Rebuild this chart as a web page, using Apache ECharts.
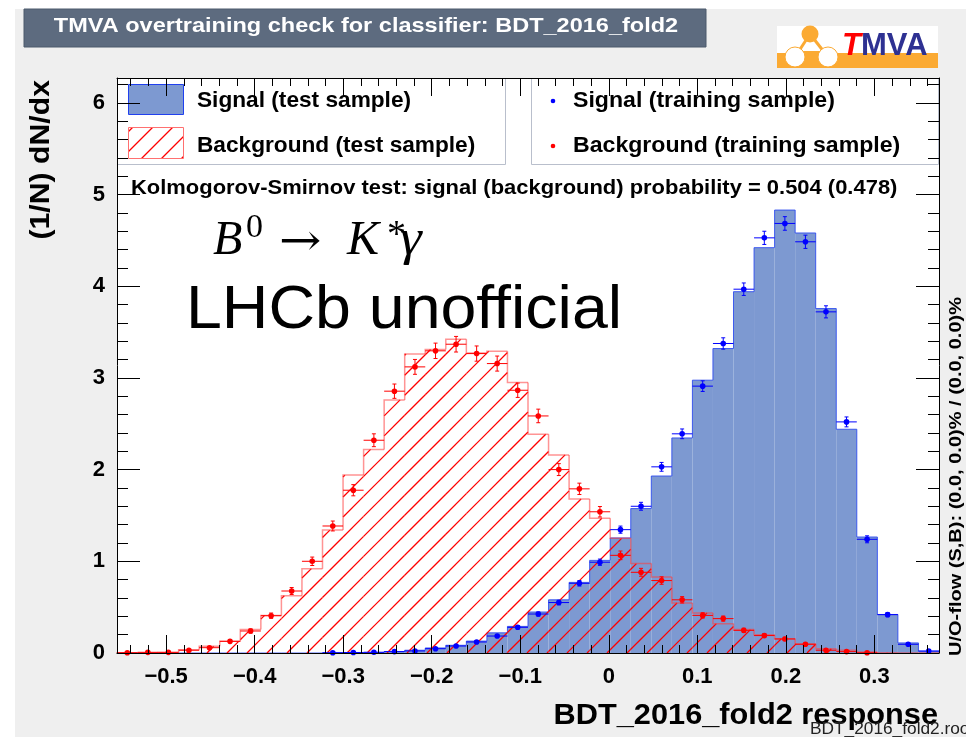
<!DOCTYPE html>
<html>
<head>
<meta charset="utf-8">
<script src="https://cdn.jsdelivr.net/npm/echarts@6/dist/echarts.min.js"></script>
<style>
  html, body { margin: 0; padding: 0; background: #fff; }
  #chart { width: 966px; height: 737px; }
</style>
</head>
<body>
<div id="chart"></div>
<script>
// Histogram binning of the BDT response
const XMIN = -0.5555;
const XMAX = 0.373;
const NBINS = 40;
const YMAX = 6.27;

// Axis tick labels
const xTickValues = [-0.5, -0.4, -0.3, -0.2, -0.1, 0, 0.1, 0.2, 0.3];
const yTickValues = [0, 1, 2, 3, 4, 5, 6];

// Signal, test sample (filled histogram), normalised (1/N) dN/dx
const sigTest = [0, 0, 0, 0, 0, 0, 0, 0, 0, 0,
  0.002, 0.004, 0.006, 0.015, 0.03, 0.055, 0.084, 0.13, 0.22, 0.29,
  0.447, 0.58, 0.77, 1.01, 1.255, 1.575, 1.93, 2.345, 2.975, 3.32,
  3.94, 4.42, 4.83, 4.58, 3.756, 2.44, 1.265, 0.42, 0.11, 0.018];

// Background, test sample (hatched histogram)
const bkgTest = [0.004, 0.004, 0.006, 0.036, 0.073, 0.127, 0.255, 0.41, 0.625, 0.92,
  1.34, 1.94, 2.22, 2.76, 3.26, 3.31, 3.42, 3.27, 3.29, 2.95,
  2.385, 2.16, 1.68, 1.47, 1.25, 0.975, 0.83, 0.545, 0.436, 0.32,
  0.255, 0.2, 0.156, 0.1, 0.047, 0.03, 0.01, 0.004, 0, 0];

// Signal, training sample (points with errors)
const sigTrain = [null, null, null, null, null, null, null, null, null, null,
  0.003, 0.005, 0.008, 0.015, 0.022, 0.047, 0.076, 0.12, 0.185, 0.28,
  0.425, 0.55, 0.76, 0.99, 1.345, 1.60, 2.03, 2.39, 2.91, 3.375,
  3.967, 4.527, 4.684, 4.484, 3.72, 2.52, 1.24, 0.418, 0.095, 0.022];
const sigTrainErr = [0, 0, 0, 0, 0, 0, 0, 0, 0, 0,
  0.002, 0.003, 0.003, 0.004, 0.005, 0.007, 0.009, 0.012, 0.015, 0.018,
  0.022, 0.025, 0.03, 0.034, 0.039, 0.043, 0.048, 0.053, 0.058, 0.062,
  0.068, 0.072, 0.074, 0.072, 0.066, 0.054, 0.038, 0.022, 0.011, 0.005];

// Background, training sample (points with errors)
const bkgTrain = [0.003, 0.007, 0.007, 0.03, 0.058, 0.127, 0.24, 0.407, 0.676, 1.0,
  1.385, 1.775, 2.32, 2.855, 3.12, 3.295, 3.367, 3.265, 3.156, 2.865,
  2.585, 2.0, 1.79, 1.54, 1.065, 0.88, 0.79, 0.58, 0.41, 0.375,
  0.247, 0.19, 0.153, 0.095, 0.03, 0.015, 0.003, null, null, null];
const bkgTrainErr = [0.003, 0.004, 0.004, 0.008, 0.011, 0.016, 0.023, 0.029, 0.038, 0.046,
  0.054, 0.061, 0.07, 0.078, 0.081, 0.084, 0.085, 0.083, 0.082, 0.078,
  0.074, 0.065, 0.062, 0.057, 0.047, 0.043, 0.041, 0.035, 0.029, 0.028,
  0.023, 0.02, 0.018, 0.014, 0.008, 0.006, 0.003, 0, 0, 0];

const BW = (XMAX - XMIN) / NBINS;
const SANS = '"Liberation Sans", Arial, Helvetica, sans-serif';
const SERIF = '"Liberation Serif", "Times New Roman", serif';
const HATCH_STEP = 20;
const HATCH_COLOR = 'rgb(255,0,0)';

// 45-degree hatch segments (lines x + y = k * step) clipped to a rectangle
function hatchSegments(x0, y0, x1, y1, z) {
  const segs = [];
  const cMin = Math.ceil((x0 + y0) / HATCH_STEP) * HATCH_STEP;
  for (let c = cMin; c <= x1 + y1; c += HATCH_STEP) {
    const xa = Math.max(x0, c - y1);
    const xb = Math.min(x1, c - y0);
    if (xb <= xa) continue;
    const seg = {
      type: 'line',
      shape: { x1: xa, y1: c - xa, x2: xb, y2: c - xb },
      style: { stroke: HATCH_COLOR, lineWidth: 1.3 }
    };
    if (z !== undefined) seg.z = z;
    segs.push(seg);
  }
  return segs;
}

function binRows(values) {
  const rows = [];
  values.forEach((v, i) => {
    if (v !== null) rows.push([XMIN + (i + 0.5) * BW, v, i]);
  });
  return rows;
}

// Step histogram: fill (solid or hatched) per bin plus the outline contour
function histRenderer(values, fill, stroke, lineWidth, hatched) {
  return function (params, api) {
    const i = api.value(2);
    const v = values[i];
    const lo = XMIN + i * BW, hi = lo + BW;
    const prev = i > 0 ? values[i - 1] : 0;
    const p0 = api.coord([lo, 0]);
    const p1 = api.coord([hi, v]);
    let children = [];
    if (v > 0) {
      if (hatched) {
        children = children.concat(hatchSegments(p0[0], p1[1], p1[0], p0[1]));
      } else {
        children.push({
          type: 'rect',
          shape: { x: p0[0], y: p1[1], width: p1[0] - p0[0], height: p0[1] - p1[1] },
          style: { fill: fill }
        });
      }
    }
    const pts = [api.coord([lo, prev]), api.coord([lo, v]), p1];
    if (i === values.length - 1) pts.push(api.coord([hi, 0]));
    children.push({
      type: 'polyline',
      shape: { points: pts },
      style: { stroke: stroke, lineWidth: lineWidth, fill: null }
    });
    return { type: 'group', children: children };
  };
}

// Training points: marker, bin-width horizontal bar, vertical error bar with caps
function pointRenderer(values, errs, color) {
  return function (params, api) {
    const i = api.value(2);
    const v = values[i];
    const e = errs[i];
    const lo = XMIN + i * BW, hi = lo + BW, c = lo + BW / 2;
    const pl = api.coord([lo, v]), pr = api.coord([hi, v]);
    const pt = api.coord([c, v + e]), pb = api.coord([c, v - e]);
    const pc = api.coord([c, v]);
    const ls = { stroke: color, lineWidth: 1 };
    return {
      type: 'group',
      children: [
        { type: 'line', shape: { x1: pl[0], y1: pl[1], x2: pr[0], y2: pr[1] }, style: ls },
        { type: 'line', shape: { x1: pt[0], y1: pt[1], x2: pb[0], y2: pb[1] }, style: ls },
        { type: 'line', shape: { x1: pt[0] - 2, y1: pt[1], x2: pt[0] + 2, y2: pt[1] }, style: ls },
        { type: 'line', shape: { x1: pb[0] - 2, y1: pb[1], x2: pb[0] + 2, y2: pb[1] }, style: ls },
        { type: 'circle', shape: { cx: pc[0], cy: pc[1], r: 2.8 }, style: { fill: color } }
      ]
    };
  };
}

// Minor tick positions
const xMinor = [];
for (let k = -27; k <= 18; k++) {
  const t = k * 0.02;
  if (t > XMIN && t < XMAX && Math.abs(k % 5) !== 0) xMinor.push(+t.toFixed(3));
}
const yMinor = [];
for (let k = 1; k <= 31; k++) {
  const t = k * 0.2;
  if (k % 5 !== 0 && t < YMAX) yMinor.push(+t.toFixed(2));
}

function fmtX(v) {
  if (Math.abs(v) < 1e-9) return '0';
  return v < 0 ? '\u2212' + Math.abs(v).toFixed(1) : v.toFixed(1);
}

function xAxisDef(position, ticks, len, labels, line) {
  return {
    type: 'value', gridIndex: 0, position: position, min: XMIN, max: XMAX, z: 10,
    axisLine: { show: line, onZero: false, lineStyle: { color: '#000', width: 1 } },
    splitLine: { show: false },
    axisTick: { show: true, inside: true, length: len, customValues: ticks, lineStyle: { color: '#000', width: 1 } },
    axisLabel: labels ? {
      show: true, customValues: xTickValues, formatter: fmtX, margin: 13,
      fontSize: 22, fontWeight: 'bold', fontFamily: SANS, color: '#000'
    } : { show: false }
  };
}
function yAxisDef(position, ticks, len, labels, line) {
  return {
    type: 'value', gridIndex: 0, position: position, min: 0, max: YMAX, z: 10,
    axisLine: { show: line, onZero: false, lineStyle: { color: '#000', width: 1 } },
    splitLine: { show: false },
    axisTick: { show: true, inside: true, length: len, customValues: ticks, lineStyle: { color: '#000', width: 1 } },
    axisLabel: labels ? {
      show: true, customValues: yTickValues, formatter: v => String(v), margin: 12,
      fontSize: 22, fontWeight: 'bold', fontFamily: SANS, color: '#000'
    } : { show: false }
  };
}

function txt(x, y, text, font, opt) {
  opt = opt || {};
  return {
    type: 'text', x: x, y: y, z: opt.z || 20,
    scaleX: opt.sx || 1, rotation: opt.rot || 0,
    style: {
      text: text, font: font, fill: opt.color || '#000',
      align: opt.align || 'left', verticalAlign: 'middle'
    }
  };
}

const chart = echarts.init(document.getElementById('chart'), null, { renderer: 'canvas' });

const graphics = [
  // canvas background and outer white margin
  { type: 'rect', z: -100, shape: { x: 15, y: 9, width: 951, height: 728 }, style: { fill: '#efefef' } },
  // title box
  { type: 'rect', z: 5, shape: { x: 24, y: 9, width: 682, height: 38 }, style: { fill: '#5d6b7f', stroke: '#4d5a6c', lineWidth: 1 } },
  txt(366, 26, 'TMVA overtraining check for classifier: BDT_2016_fold2', 'bold 21px ' + SANS, { align: 'center', color: '#fff', sx: 1.12 }),
  // TMVA logo
  { type: 'rect', z: 5, shape: { x: 777, y: 26, width: 161, height: 42 }, style: { fill: '#fff' } },
  { type: 'rect', z: 6, shape: { x: 777, y: 53, width: 161, height: 15 }, style: { fill: '#fbaa33' } },
  { type: 'line', z: 7, shape: { x1: 810, y1: 34, x2: 795, y2: 57 }, style: { stroke: '#fbaa33', lineWidth: 3 } },
  { type: 'line', z: 7, shape: { x1: 810, y1: 34, x2: 828, y2: 57 }, style: { stroke: '#fbaa33', lineWidth: 3 } },
  { type: 'line', z: 7, shape: { x1: 795, y1: 52, x2: 828, y2: 52 }, style: { stroke: '#fbaa33', lineWidth: 2 } },
  { type: 'circle', z: 8, shape: { cx: 810, cy: 34, r: 8.5 }, style: { fill: '#fbaa33' } },
  { type: 'circle', z: 8, shape: { cx: 795, cy: 57, r: 10 }, style: { fill: '#fff', stroke: '#fbaa33', lineWidth: 1 } },
  { type: 'circle', z: 8, shape: { cx: 828, cy: 57, r: 10 }, style: { fill: '#fff', stroke: '#fbaa33', lineWidth: 1 } },
  txt(842, 46, 'T', 'italic bold 31px ' + SANS, { color: '#ff0000' }),
  txt(861, 46, 'MVA', 'bold 31px ' + SANS, { color: '#2e3192' }),
  // legend boxes
  { type: 'rect', z: 5, shape: { x: 117.5, y: 78.5, width: 388, height: 86 }, style: { fill: '#fff', stroke: '#b9bfcc', lineWidth: 1 } },
  { type: 'rect', z: 5, shape: { x: 531.5, y: 78.5, width: 407, height: 86 }, style: { fill: '#fff', stroke: '#b9bfcc', lineWidth: 1 } },
  { type: 'rect', z: 6, shape: { x: 128.5, y: 84.5, width: 55, height: 30 }, style: { fill: '#7d99d1', stroke: '#2040ee', lineWidth: 1 } }
].concat(hatchSegments(128.5, 127.5, 183.5, 158.5, 6)).concat([
  { type: 'rect', z: 7, shape: { x: 128.5, y: 127.5, width: 55, height: 31 }, style: { fill: null, stroke: '#ff7070', lineWidth: 1 } },
  txt(197, 101, 'Signal (test sample)', 'bold 22px ' + SANS, { sx: 1.03 }),
  txt(197, 146, 'Background (test sample)', 'bold 22px ' + SANS, { sx: 1.03 }),
  { type: 'circle', z: 6, shape: { cx: 553, cy: 101, r: 2.3 }, style: { fill: '#0000ff' } },
  { type: 'circle', z: 6, shape: { cx: 553, cy: 146, r: 2.3 }, style: { fill: '#ff0000' } },
  txt(573, 101, 'Signal (training sample)', 'bold 22px ' + SANS, { sx: 1.05 }),
  txt(573, 146, 'Background (training sample)', 'bold 22px ' + SANS, { sx: 1.05 }),
  txt(131, 188, 'Kolmogorov-Smirnov test: signal (background) probability = 0.504 (0.478)', 'bold 21px ' + SANS, { sx: 1.045 }),
  // decay label
  txt(213, 241, 'B', 'italic 48px ' + SERIF),
  txt(246, 228, '0', '34px ' + SERIF),
  txt(279, 244, '\u2192', '44px "DejaVu Serif", ' + SERIF, { sx: 1.15 }),
  txt(347, 241, 'K', 'italic 48px ' + SERIF),
  txt(387, 236, '*', '38px ' + SERIF),
  txt(400, 241, '\u03b3', 'italic 50px ' + SERIF, { sx: 1.1 }),
  txt(186, 311, 'LHCb unofficial', '62px ' + SANS, { sx: 1.04 }),
  // axis titles
  txt(938, 716, 'BDT_2016_fold2 response', 'bold 29px ' + SANS, { align: 'right', sx: 1.06 }),
  txt(42, 80, '(1/N) dN/dx', 'bold 27px ' + SANS, { align: 'right', rot: Math.PI / 2, sx: 1.12 }),
  txt(957, 656, 'U/O-flow (S,B): (0.0, 0.0)% / (0.0, 0.0)%', 'bold 16px ' + SANS, { rot: Math.PI / 2, sx: 1.25 }),
  txt(810, 730, 'BDT_2016_fold2.root', '16px ' + SANS, { color: '#222', sx: 1.08 })
]);

chart.setOption({
  backgroundColor: '#ffffff',
  animation: false,
  grid: { left: 117, right: 27, top: 78, bottom: 84, show: true, backgroundColor: '#ffffff', borderWidth: 0 },
  xAxis: [
    xAxisDef('bottom', xTickValues, 18, true, true),
    xAxisDef('bottom', xMinor, 8, false, false),
    xAxisDef('top', xTickValues, 18, false, true),
    xAxisDef('top', xMinor, 8, false, false)
  ],
  yAxis: [
    yAxisDef('left', yTickValues, 23, true, true),
    yAxisDef('left', yMinor, 11, false, false),
    yAxisDef('right', yTickValues, 23, false, true),
    yAxisDef('right', yMinor, 11, false, false)
  ],
  graphic: { elements: graphics },
  series: [
    {
      type: 'custom', name: 'Signal (test sample)', xAxisIndex: 0, yAxisIndex: 0, z: 2,
      data: binRows(sigTest),
      renderItem: histRenderer(sigTest, '#7d99d1', 'rgba(40,70,240,0.85)', 1, false)
    },
    {
      type: 'custom', name: 'Background (test sample)', xAxisIndex: 0, yAxisIndex: 0, z: 3,
      data: binRows(bkgTest),
      renderItem: histRenderer(bkgTest, null, 'rgba(255,60,60,0.55)', 1.5, true)
    },
    {
      type: 'custom', name: 'Signal (training sample)', xAxisIndex: 0, yAxisIndex: 0, z: 4,
      data: binRows(sigTrain),
      renderItem: pointRenderer(sigTrain, sigTrainErr, '#0000ff')
    },
    {
      type: 'custom', name: 'Background (training sample)', xAxisIndex: 0, yAxisIndex: 0, z: 5,
      data: binRows(bkgTrain),
      renderItem: pointRenderer(bkgTrain, bkgTrainErr, '#ff0000')
    }
  ]
});
</script>
</body>
</html>
